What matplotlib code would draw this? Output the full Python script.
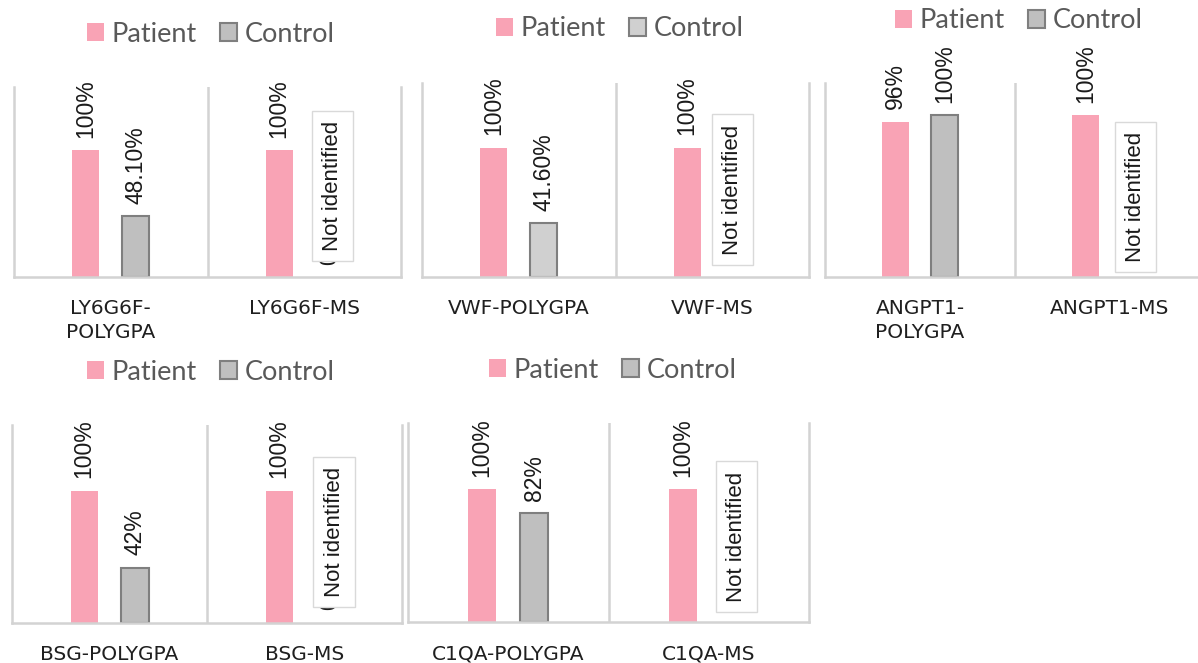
import matplotlib
matplotlib.use("Agg")
import matplotlib.pyplot as plt
from matplotlib.patches import Patch, Rectangle

W, H = 1198, 663

# ---- data ----
genes = ["LY6G6F", "VWF", "ANGPT1", "BSG", "C1QA"]
cat_labels = [["LY6G6F-\nPOLYGPA", "LY6G6F-MS"],
              ["VWF-POLYGPA", "VWF-MS"],
              ["ANGPT1-\nPOLYGPA", "ANGPT1-MS"],
              ["BSG-POLYGPA", "BSG-MS"],
              ["C1QA-POLYGPA", "C1QA-MS"]]
patient = [[100, 100], [100, 100], [96, 100], [100, 100], [100, 100]]
control = [[48.1, 0], [41.6, 0], [100, 0], [42, 0], [82, 0]]
patient_txt = [["100%", "100%"], ["100%", "100%"], ["96%", "100%"], ["100%", "100%"], ["100%", "100%"]]
control_txt = [["48.10%", "0%"], ["41.60%", "0%"], ["100%", "0%"], ["42%", "0%"], ["82%", "0%"]]
series = ["Patient", "Control"]
missing_txt = "Not identified"

# ---- layout (pixels) ----
axes_px = [(14, 87, 401, 277), (422, 83, 809, 277), (825, 83, 1205, 277),
           (12, 425, 402, 623), (408, 423, 809, 622)]
ymax = [150, 150, 120, 150, 150]
legend_px = [(211, 34), (620, 29), (1019, 21), (211, 372), (613, 370)]
box_px = [(312, 111, 353, 261), (712, 114, 753, 265), (1115, 122, 1156, 272),
          (313, 457, 355, 607), (716, 461, 757, 612)]

pink = "#F9A3B5"
grays = ["#BFBFBF", "#D0D0D0", "#BFBFBF", "#BFBFBF", "#BFBFBF"]
line_c = "#D3D3D3"

fig = plt.figure(figsize=(W / 100, H / 100), dpi=100)

for i in range(len(genes)):
    l, t, r, b = axes_px[i]
    ax = fig.add_axes([l / W, 1 - b / H, (r - l) / W, (b - t) / H])
    x = [0, 1]
    off, bw = 0.13, 0.14
    pb = ax.bar([v - off for v in x], patient[i], bw, color=pink, zorder=2)
    cb = ax.bar([v + off for v in x], control[i], bw, color=grays[i],
                edgecolor=["#7F7F7F" if v > 0 else "none" for v in control[i]],
                linewidth=1.5, zorder=2)
    for bars, txts in ((pb, patient_txt[i]), (cb, control_txt[i])):
        for rect, s in zip(bars, txts):
            ax.annotate(s, (rect.get_x() + rect.get_width() / 2, rect.get_height()),
                        xytext=(0, 9), textcoords="offset points", rotation=90,
                        ha="center", va="bottom", fontsize=16.5,
                        family="Liberation Sans", color="#1a1a1a", zorder=1)
    ax.set_xlim(-0.5, 1.5)
    ax.set_ylim(0, ymax[i])
    ax.set_yticks([])
    ax.set_xticks(x)
    ax.set_xticklabels(cat_labels[i], fontsize=14.5, color="#1f1f1f",
                       linespacing=1.3)
    ax.tick_params(axis="x", length=0, pad=16)
    for side in ("top", "right"):
        ax.spines[side].set_visible(False)
    for side in ("left", "bottom"):
        ax.spines[side].set_color(line_c)
        ax.spines[side].set_linewidth(1.8)
    ax.axvline(0.5, color=line_c, lw=1.8, zorder=0)
    ax.axvline(1.5, color=line_c, lw=1.8, zorder=0, clip_on=False)
    ax.patch.set_alpha(0)

    handles = [Patch(facecolor=pink, edgecolor="none"),
               Patch(facecolor=grays[i], edgecolor="#7F7F7F", linewidth=1.5)]
    lx, ly = legend_px[i]
    fig.legend(handles, series, loc="center", bbox_to_anchor=(lx / W, 1 - ly / H),
               ncol=2, frameon=False, prop={"family": "Lato", "size": 19.5},
               labelcolor="#595959", handlelength=0.62, handleheight=0.62,
               handletextpad=0.3, columnspacing=0.85, borderaxespad=0, borderpad=0)

    bl, bt, br, bb = box_px[i]
    fig.add_artist(Rectangle((bl / W, 1 - bb / H), (br - bl) / W, (bb - bt) / H,
                             transform=fig.transFigure, facecolor="white",
                             edgecolor="#D9D9D9", linewidth=1, zorder=5))
    fig.text((bl + br) / 2 / W, 1 - (bt + bb) / 2 / H, missing_txt, rotation=90,
             ha="center", va="center", fontsize=16, family="Liberation Sans",
             color="#1a1a1a", zorder=6)

fig.savefig("out.png", dpi=100, facecolor="white")
